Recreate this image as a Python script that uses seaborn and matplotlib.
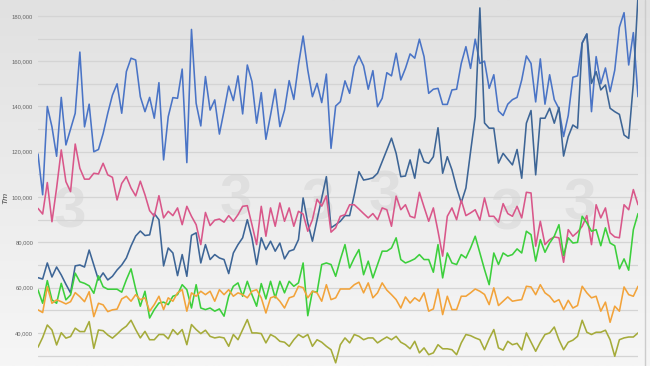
import numpy as np
import pandas as pd
import matplotlib
matplotlib.use("Agg")
import matplotlib.pyplot as plt
from matplotlib.colors import LinearSegmentedColormap
from matplotlib.lines import Line2D
import seaborn as sns

# values, one point per period
series_1 = [119, 101, 140, 131, 118, 144, 123, 130, 137, 164,
            131, 141, 120, 121, 128, 137, 145, 150, 137, 155.4,
            161.3, 160.5, 144.3, 137.7, 144, 134.8, 150.5, 116.4, 135.5, 143.9,
            143.6, 156.5, 115.2, 174, 141.4, 131.4, 153.2, 138.4, 142.9, 127.8,
            138.1, 149, 142.6, 153.5, 136.7, 158.3, 151, 132.6, 146.1, 125.5,
            136.2, 147.6, 131.1, 138.4, 151.4, 143.1, 158.3, 171.1, 156.1, 144.3,
            150.2, 141.7, 154.3, 121.5, 140.2, 142.1, 151.3, 145.8, 157.6, 162.3,
            157.9, 147.6, 155.8, 139.9, 143.6, 154.9, 153.5, 163.5, 151.7, 156.8,
            163.2, 161.3, 169.7, 162, 145.8, 147.6, 148, 140.9, 140.9, 147.3,
            147.6, 159, 166.4, 156.8, 169.7, 159, 160, 148, 154, 138,
            136, 141, 143, 144, 151.7, 162.3, 159, 142, 161, 141,
            154, 143, 139, 126.7, 136, 152.9, 153.5, 168.2, 172, 137.7,
            162, 150, 157, 146.5, 156, 175, 181.4, 158.3, 172.6, 144.3]
series_2 = [64.4, 63.8, 70.9, 64.7, 69.1, 65.6, 61.5, 57.7, 69.6, 70,
            69.1, 76.6, 70, 63.4, 66.5, 63.4, 65, 67.8, 70, 73.1,
            78.4, 82.8, 85, 83, 83.3, 92.7, 90, 69.6, 77.5, 75.3,
            65.3, 74.6, 65, 83.1, 84.2, 70.9, 79, 72.4, 74.6, 73.1,
            72.4, 66.2, 75.3, 79, 82, 90, 82, 70.2, 82, 76.8,
            80.5, 76.1, 79.7, 72.7, 76.1, 76.8, 81.2, 99.6, 88.6, 80.5,
            90, 99.6, 109, 86.4, 87.8, 89.3, 91.8, 91.8, 101, 111.2,
            107.5, 107.9, 108.5, 110.5, 115.6, 120.8, 126, 119.3, 109, 109.3,
            116.4, 108.3, 121.1, 115.6, 114.9, 117.8, 130.6, 110.5, 117.8, 112,
            104, 97.5, 104, 120, 135.5, 183.5, 132.7, 130.4, 130.4, 115,
            119.3, 116.7, 114.2, 121, 108.3, 132.6, 138.2, 109.8, 134.8, 134.8,
            139.2, 132.6, 139.6, 118.1, 126.7, 131.8, 130.4, 167.9, 172, 150.2,
            155.4, 147.3, 149.5, 139.2, 137.7, 136.5, 127.4, 125.9, 150.2, 189]
series_3 = [95, 92.5, 106.4, 89.1, 104, 120.8, 106.8, 102.4, 123.4, 112.7,
            107.9, 107.9, 110.5, 110.2, 114.9, 109.8, 108.7, 98.7, 106, 109,
            104, 100.5, 107, 101, 94, 91.5, 100.6, 90.8, 93.7, 91.8,
            95.2, 87.8, 95.9, 91.5, 87.8, 79, 93.2, 87.4, 89.8, 90.3,
            88.9, 91.8, 89.3, 92.2, 95.9, 96.2, 87.8, 79, 95.9, 82.7,
            95.2, 87.1, 97.4, 89.3, 95.2, 87.1, 93.7, 92.5, 84.9, 90,
            99, 96, 100.5, 84.5, 86.4, 91.5, 92.2, 96.6, 96.6, 94.7,
            92.7, 90.8, 92.7, 90, 95.2, 94.4, 87.1, 100.4, 94.4, 96.6,
            91.5, 90.8, 102.1, 95.6, 89.3, 95.2, 84.9, 73.9, 91.5, 95.2,
            90, 98.6, 91.8, 93, 94.4, 89.8, 99.6, 91.5, 91.5, 88.9,
            97.1, 92.7, 91.5, 95.9, 90.8, 102.1, 101.8, 78.3, 89.3, 79,
            81.2, 82.4, 82, 71.2, 85.6, 82.7, 84.5, 87.1, 91.8, 79,
            96.6, 90.8, 95.2, 84.2, 82.4, 82, 96.6, 94.4, 103.3, 96.6]
series_4 = [59, 53.1, 63.1, 54.6, 53.1, 61.9, 54.6, 56.8, 66.4, 62.6,
            61.9, 60.8, 57.5, 65.2, 60.4, 59.3, 59.3, 59.3, 58, 63.5,
            68.3, 59.4, 51.8, 58.4, 46.6, 50.3, 53.2, 53.6, 52.5, 56.2,
            56.9, 61.3, 59.1, 51, 61.3, 51, 50.3, 51, 49.6, 50.6,
            47.4, 56.2, 60.6, 62.1, 56.2, 62.8, 56.9, 51.8, 61.8, 55,
            62.8, 55.5, 62.8, 57.7, 62.8, 60.6, 62.1, 70.9, 47.6, 58.4,
            58, 70.2, 70.9, 70.2, 65, 72.4, 79, 68.7, 73.1, 76.8,
            65.7, 71.7, 64.3, 70.2, 76.1, 76.1, 77.5, 82, 72.4, 70.9,
            71.7, 72.7, 74.6, 72.4, 72.4, 66.8, 79, 64.3, 75.3, 70.9,
            70.2, 74.6, 73.1, 77.5, 82.7, 75.3, 68, 61.3, 75.3, 70.2,
            75.3, 73.9, 74.6, 77.1, 75.3, 84.9, 83.4, 71.7, 81.2, 75.6,
            79.7, 82.7, 87.8, 74.2, 82, 79.7, 80, 91.5, 88.6, 84.9,
            85.6, 78.5, 86.4, 79.7, 78.5, 68.3, 72.7, 67.7, 85.6, 92.7]
series_5 = [50.2, 49, 60.4, 53.1, 54.6, 53.8, 52.8, 53.8, 57.8, 56,
            53.8, 58.2, 47.2, 53.1, 52.4, 49.4, 50.2, 50.5, 55, 56.2,
            54, 56.9, 54.7, 55.5, 49.6, 52.5, 56.2, 50.3, 55.5, 54,
            57.7, 59.1, 49.6, 57.7, 56.2, 58.4, 56.9, 58.4, 54, 59.1,
            56.9, 59.1, 56.2, 57.7, 56.9, 55.5, 58.4, 59.1, 55.5, 48.8,
            55.5, 56.2, 54, 51, 55.5, 56.2, 60.6, 60, 55.5, 58.4,
            57.7, 54, 61.3, 54.7, 55.5, 59.4, 59.4, 59.4, 61.3, 62.4,
            57.7, 62.1, 55.5, 57.7, 62.1, 58.9, 56.9, 54.7, 51, 55.9,
            53.2, 55.5, 54, 57.7, 49.6, 50.6, 59.4, 48.1, 56.2, 50.3,
            50.3, 56.2, 56.2, 57.7, 59.4, 58.4, 57, 52.5, 59.9, 52.1,
            54, 55.9, 54, 54.4, 54.7, 60.6, 60.3, 56.9, 61.3, 57.7,
            56.2, 53.6, 54.7, 50.3, 54.4, 51, 52.1, 60.6, 57.7, 55.5,
            56.2, 49.6, 53.6, 44.7, 51.8, 49.6, 60.3, 56.9, 56.2, 60.6]
series_6 = [33.7, 38, 43.5, 41.3, 34.7, 40.1, 37.7, 38.4, 42.1, 40.6,
            40.6, 45, 33.2, 41.3, 41, 39.1, 37.7, 39.5, 41.5, 43,
            45.6, 41.5, 37.8, 40.7, 37, 37, 39.3, 39.3, 37.4, 41.5,
            39.3, 41.5, 34.8, 43.7, 41.5, 39.7, 41.2, 38.5, 37.8, 38.2,
            37.8, 34.1, 39.3, 37, 41.5, 45.9, 40, 40, 39.7, 35.6,
            39.3, 38.2, 36.3, 35.9, 34.1, 37, 39.3, 38, 39.3, 34.1,
            37, 35.9, 34.1, 32.6, 26.8, 34.8, 37.8, 35.6, 39.3, 38.5,
            37, 37.8, 37.8, 35.6, 37, 38.2, 37, 38.5, 35.9, 34.8,
            33, 36.3, 31.2, 33.4, 30.4, 31.2, 34.8, 33, 33, 32.6,
            30.4, 35.6, 39.3, 38.8, 37.8, 37, 32.6, 37.4, 41.5, 33.4,
            32.4, 36.3, 34.8, 35.4, 32.5, 40, 35.9, 31.9, 35.9, 39.3,
            40, 42.6, 37, 32.6, 35.9, 36.8, 38.5, 45.6, 40.3, 39.3,
            40.3, 40.3, 41.2, 37, 29.7, 37, 37.8, 38.2, 38.2, 40]

names = ["s1", "s2", "s3", "s4", "s5", "s6"]
colors = ["#4a74c6", "#3d6596", "#d9578a", "#3ccf3c", "#f2a33a", "#a5ab3a"]
y_ticks = [40000, 60000, 80000, 100000, 120000, 140000, 160000, 180000]

all_series = [series_1, series_2, series_3, series_4, series_5, series_6]
frames = []
for n, s in zip(names, all_series):
    frames.append(pd.DataFrame({"t": np.arange(len(s)), "v": np.array(s) * 1000, "name": n}))
df = pd.concat(frames, ignore_index=True)

sns.set_style("white")
plt.rcParams["font.family"] = ["Liberation Sans", "DejaVu Sans"]
fig = plt.figure(figsize=(6.5, 3.66), dpi=100)

# gray gradient background
bg = fig.add_axes([0, 0, 1, 1], zorder=-2)
cmap = LinearSegmentedColormap.from_list("bg", ["#e1e1e1", "#f6f6f6"])
bg.imshow(np.linspace(0, 1, 256).reshape(-1, 1), cmap=cmap, aspect="auto", extent=[0, 1, 0, 1])
bg.set_xlim(0, 1)
bg.set_ylim(0, 1)
bg.axis("off")
# faint "3" watermarks
for wx, wy in [(70, 212), (236, 200), (318, 205), (385, 196), (507, 215), (580, 205)]:
    bg.text(wx / 650, 1 - wy / 366, "3", fontsize=42, fontweight="bold", color="#000000",
            alpha=0.05, ha="center", va="center")

ax = fig.add_axes([38 / 650, 0, 600 / 650, 1])
ax.set_facecolor("none")
sns.lineplot(data=df, x="t", y="v", hue="name", palette=colors, hue_order=names,
             linewidth=1.15, legend=False, ax=ax)

ax.set_xlim(0, 129)
ax.set_ylim(25400, 187000)
ax.set_yticks(y_ticks)
ax.set_yticklabels([f"{t:,}" for t in y_ticks])
ax.set_yticks([30000 + 20000 * k for k in range(8)], minor=True)
ax.grid(True, axis="y", which="both", color="#d4d4d4", linewidth=0.9, zorder=0)
ax.set_axisbelow(True)
ax.set_xticks([])
ax.tick_params(axis="y", which="both", length=0, pad=3.5, labelsize=4.2, labelcolor="#666666")
ax.set_xlabel("")
ax.set_ylabel("")
for sp in ax.spines.values():
    sp.set_visible(False)

fig.text(5.5 / 650, 1 - 198 / 366, "Tm", rotation=90, style="italic", fontsize=6,
         color="#444444", ha="center", va="center")
fig.add_artist(Line2D([645 / 650, 645 / 650], [0, 1], color="#cccccc", linewidth=1))

fig.savefig("out.png", dpi=100)
